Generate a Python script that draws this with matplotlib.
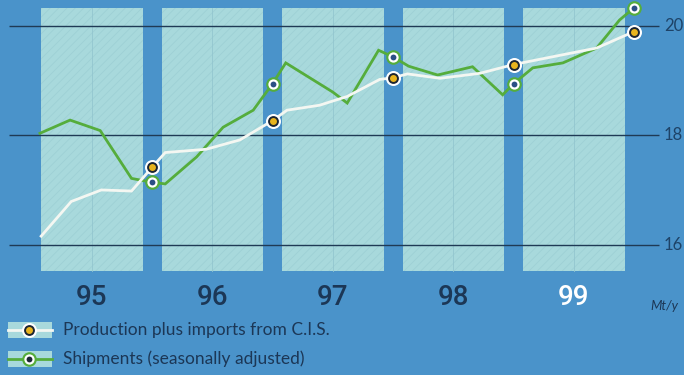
import numpy as np
import matplotlib
matplotlib.use("Agg")
import matplotlib.pyplot as plt
from matplotlib.patches import Rectangle

# ---- data -----------------------------------------------------------------
years = [1995, 1996, 1997, 1998, 1999]
year_labels = ["95", "96", "97", "98", "99"]
yticks = [16, 18, 20]
ytick_labels = ["16", "18", "20"]

# Production plus imports from C.I.S. (Mt/y)
prod_t = [1995.08, 1995.33, 1995.58, 1995.83, 1996.00, 1996.11, 1996.45,
          1996.73, 1997.00, 1997.12, 1997.39, 1997.62, 1997.89, 1998.00,
          1998.12, 1998.39, 1998.72, 1999.00, 1999.39, 1999.69, 2000.00]
prod_v = [16.17, 16.80, 17.01, 16.99, 17.42, 17.69, 17.75,
          17.92, 18.27, 18.46, 18.55, 18.71, 19.02, 19.05,
          19.12, 19.04, 19.13, 19.29, 19.46, 19.59, 19.89]

# Shipments, seasonally adjusted (Mt/y)
ship_t = [1995.07, 1995.32, 1995.57, 1995.83, 1996.00, 1996.11, 1996.37,
          1996.59, 1996.84, 1997.00, 1997.11, 1997.50, 1997.62, 1997.88,
          1998.00, 1998.13, 1998.37, 1998.66, 1998.91, 1999.00, 1999.16,
          1999.41, 1999.69, 1999.88, 2000.00]
ship_v = [18.04, 18.28, 18.09, 17.22, 17.15, 17.12, 17.61,
          18.15, 18.46, 18.94, 19.32, 18.79, 18.59, 19.55,
          19.43, 19.26, 19.10, 19.25, 18.74, 18.94, 19.23,
          19.32, 19.59, 20.10, 20.32]

legend_labels = ["Production plus imports from C.I.S.",
                 "Shipments (seasonally adjusted)"]
unit_label = "Mt/y"

# ---- styling ----------------------------------------------------------------
BG = "#4a93ca"
PANEL = "#a8d9dc"
HATCH = "#9ccfd4"
GRID = "#1f3a55"
NAVY = "#1c3756"
GREEN = "#55ad3c"
WHITE = "#f4f7f2"
YELLOW = "#e8b41e"
DOT_DARK = "#1b2533"
DOT_BLUE = "#2b4f85"

plt.rcParams["hatch.linewidth"] = 0.5
plt.rcParams["font.family"] = ["Lato", "DejaVu Sans"]

W, H = 684, 375
fig = plt.figure(figsize=(W / 100, H / 100), dpi=100)
fig.patch.set_facecolor(BG)
ax = fig.add_axes([0, 0, 1, 1])
ax.set_facecolor(BG)
ax.axis("off")

# one year spans 120.5 px; 2 Mt/y span 110 px
px_year = 120.5
px_unit = 55.0
x0_px, y20_px = 31.5, 25.5


def tx(px):
    return 1995 + (px - x0_px) / px_year


def vy(py):
    return 20 - (py - y20_px) / px_unit


ax.set_xlim(tx(0), tx(W))
ax.set_ylim(vy(H), vy(0))

# yearly panels with a faint half-year divider
gap = 9.5 / px_year
top, bottom = vy(8), vy(271)
for yr in years:
    ax.add_patch(Rectangle((yr + gap, bottom), 1 - 2 * gap, top - bottom,
                           facecolor=PANEL, edgecolor=HATCH, hatch="////",
                           linewidth=0, zorder=1))
    ax.plot([yr + 0.5, yr + 0.5], [bottom, top], color="#93c6cf",
            lw=0.6, zorder=1.5)

# horizontal grid lines
ax.hlines(yticks, tx(9), tx(659), color=GRID, lw=1.0, zorder=2)
for v, lab in zip(yticks, ytick_labels):
    ax.text(tx(664), v, lab, color="#1e4367", fontsize=12,
            va="center", ha="left", zorder=5)

# series lines
ax.plot(ship_t, ship_v, color=GREEN, lw=2.0, solid_joinstyle="miter", zorder=3)
ax.plot(prod_t, prod_v, color=WHITE, lw=2.0, solid_joinstyle="miter", zorder=4)

# year-end markers
pt = np.array(prod_t); pv = np.array(prod_v)
st = np.array(ship_t); sv = np.array(ship_v)
pm = np.isclose(pt, np.round(pt))
sm = np.isclose(st, np.round(st))

ax.plot(st[sm], sv[sm], "o", ms=10.5, mfc=GREEN, mec="none", zorder=6)
ax.plot(st[sm], sv[sm], "o", ms=7.4, mfc="white", mec="none", zorder=6.1)
ax.plot(st[sm], sv[sm], "o", ms=4.2, mfc=DOT_BLUE, mec="none", zorder=6.2)

ax.plot(pt[pm], pv[pm], "o", ms=10.8, mfc="white", mec="none", zorder=7)
ax.plot(pt[pm], pv[pm], "o", ms=7.8, mfc=DOT_DARK, mec="none", zorder=7.1)
ax.plot(pt[pm], pv[pm], "o", ms=5.0, mfc=YELLOW, mec="none", zorder=7.2)

# year labels under the panels
for yr, lab in zip(years, year_labels):
    ax.text(yr + 0.5, vy(298), lab, fontsize=20, fontweight="medium",
            color="white" if lab == "99" else NAVY,
            ha="center", va="center", family=["Roboto", "DejaVu Sans"],
            zorder=5)

ax.text(tx(650), vy(306), unit_label, fontsize=9.5, color=NAVY,
        ha="left", va="center", style="italic", zorder=5)

# legend drawn in pixel-like figure fractions
def fx(px):
    return px / W


def fy(py):
    return 1 - py / H


legend_rows = [(330, WHITE, "prod"), (359, GREEN, "ship")]
for (ypx, col, kind), lab in zip(legend_rows, legend_labels):
    ax.add_patch(Rectangle((fx(8), fy(ypx + 8)), fx(44), 16 / H,
                           transform=ax.transAxes, facecolor=PANEL,
                           edgecolor="none", zorder=3))
    ax.plot([fx(8), fx(52)], [fy(ypx), fy(ypx)], color=col, lw=2.0,
            transform=ax.transAxes, zorder=4)
    if kind == "prod":
        layers = [(10.8, "white"), (7.8, DOT_DARK), (5.0, YELLOW)]
    else:
        layers = [(10.5, GREEN), (7.4, "white"), (4.2, DOT_DARK)]
    for i, (ms, c) in enumerate(layers):
        ax.plot([fx(29)], [fy(ypx)], "o", ms=ms, mfc=c, mec="none",
                transform=ax.transAxes, zorder=6 + i * 0.1)
    ax.text(fx(63), fy(ypx), lab, transform=ax.transAxes, fontsize=12.5,
            color=NAVY, ha="left", va="center", zorder=5)

fig.savefig("out.png", dpi=100, facecolor=BG)
